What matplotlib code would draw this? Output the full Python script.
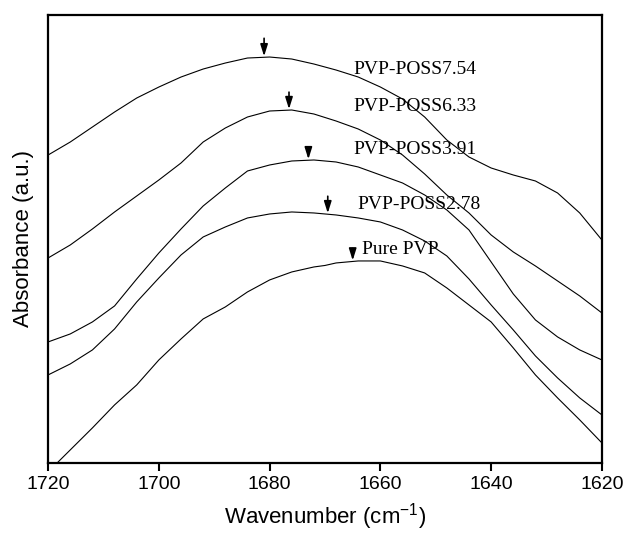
import numpy as np
import matplotlib
matplotlib.use('Agg')
import matplotlib.pyplot as plt

plt.rcParams['font.family'] = 'Liberation Sans'
plt.rcParams['mathtext.default'] = 'regular'

# wavenumber grid (cm-1)
wavenumber = [1720, 1716, 1712, 1708, 1704, 1700, 1696, 1692, 1688, 1684, 1680, 1676,
              1672, 1668, 1664, 1660, 1656, 1652, 1648, 1644, 1640, 1636, 1632, 1628,
              1624, 1620]

# absorbance (arbitrary units, offset stacked)
poss754 = [3.08, 3.21, 3.36, 3.51, 3.65, 3.76, 3.86, 3.94, 4.00, 4.05, 4.06, 4.04, 3.99,
           3.93, 3.86, 3.76, 3.64, 3.46, 3.23, 3.06, 2.95, 2.88, 2.82, 2.70, 2.50, 2.23]
poss633 = [2.05, 2.18, 2.34, 2.51, 2.67, 2.83, 3.00, 3.21, 3.35, 3.46, 3.52, 3.53, 3.49,
           3.42, 3.34, 3.23, 3.08, 2.89, 2.68, 2.50, 2.28, 2.11, 1.97, 1.82, 1.67, 1.50]
poss391 = [1.21, 1.29, 1.41, 1.57, 1.84, 2.10, 2.34, 2.57, 2.75, 2.92, 2.98, 3.02, 3.03,
           3.01, 2.96, 2.88, 2.80, 2.68, 2.53, 2.33, 2.01, 1.69, 1.43, 1.26, 1.13, 1.03]
poss278 = [0.88, 0.99, 1.13, 1.34, 1.61, 1.85, 2.08, 2.26, 2.36, 2.45, 2.49, 2.51, 2.50,
           2.48, 2.45, 2.41, 2.33, 2.22, 2.07, 1.84, 1.58, 1.33, 1.07, 0.85, 0.65, 0.48]

# pure PVP has a small kink near 1669, so it gets its own grid
wn_pvp = [1720, 1716, 1712, 1708, 1704, 1700, 1696, 1692, 1688, 1684, 1680, 1676, 1672,
          1670, 1668, 1664, 1660, 1656, 1652, 1648, 1644, 1640, 1636, 1632, 1628, 1624, 1620]
pure_pvp = [-0.09, 0.13, 0.35, 0.58, 0.78, 1.03, 1.24, 1.44, 1.56, 1.71, 1.83, 1.91, 1.96,
            1.975, 2.00, 2.02, 2.02, 1.97, 1.90, 1.75, 1.58, 1.41, 1.15, 0.88, 0.65, 0.43, 0.20]

labels = ['PVP-POSS7.54', 'PVP-POSS6.33', 'PVP-POSS3.91', 'PVP-POSS2.78', 'Pure PVP']
peak_pos = [1681.0, 1676.5, 1673.0, 1669.5, 1665.0]
label_x = [1664.9, 1664.9, 1664.9, 1664.2, 1663.3]
label_y = [3.94, 3.57, 3.13, 2.58, 2.13]

fig = plt.figure(figsize=(6.25, 5.37), dpi=100)
ax = fig.add_axes([0.077, 0.138, 0.886, 0.834])

series = [(wavenumber, poss754), (wavenumber, poss633), (wavenumber, poss391),
          (wavenumber, poss278), (wn_pvp, pure_pvp)]
arrow_len = [0.18, 0.17, 0.12, 0.17, 0.12]
for i, (xs, ys) in enumerate(series):
    ax.plot(xs, ys, color='k', linewidth=0.8)
    # arrow marking the C=O peak
    tip = np.interp(peak_pos[i], xs[::-1], ys[::-1]) + 0.01
    ax.annotate('', xy=(peak_pos[i], tip), xytext=(peak_pos[i], tip + arrow_len[i]),
                arrowprops=dict(arrowstyle='-|>,head_length=0.7,head_width=0.22', color='k',
                                lw=1.2, mutation_scale=10, shrinkA=0, shrinkB=0))
    ax.text(label_x[i], label_y[i], labels[i], fontsize=14, family='Liberation Serif',
            va='center', ha='left')

ax.set_xlim(1720, 1620)
ax.set_ylim(0, 4.48)
ax.set_xticks([1720, 1700, 1680, 1660, 1640, 1620])
ax.set_yticks([])
ax.tick_params(axis='x', direction='out', length=6, width=1.5, labelsize=14)
for s in ax.spines.values():
    s.set_linewidth(1.6)

ax.set_xlabel('Wavenumber (cm$^{-1}$)', fontsize=16, labelpad=6)
ax.set_ylabel('Absorbance (a.u.)', fontsize=16, labelpad=10)

plt.savefig('out.png', dpi=100)
